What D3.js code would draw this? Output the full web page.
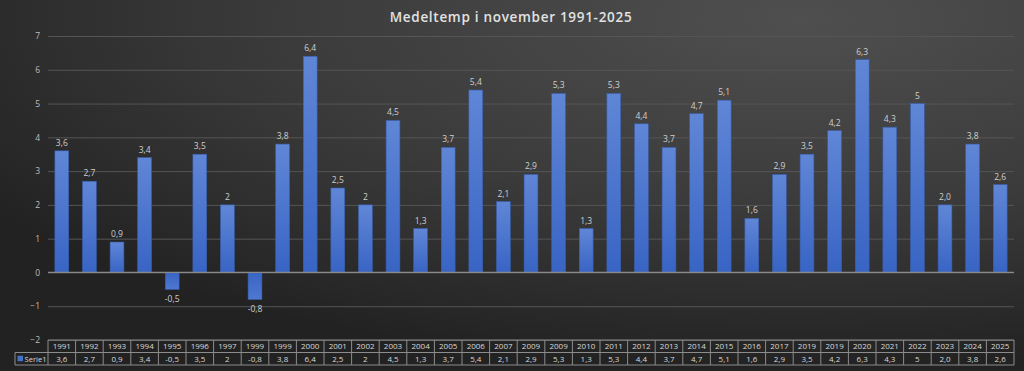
<!DOCTYPE html>
<html>
<head>
<meta charset="utf-8">
<script src="https://cdn.jsdelivr.net/npm/d3@7"></script>
<style>
  html, body { margin: 0; padding: 0; background: #2a2a2a; }
  svg { display: block; }
</style>
</head>
<body>
<svg id="chart"></svg>
<script>
const years = ["1991","1992","1993","1994","1995","1996","1997","1999","1999","2000",
  "2001","2002","2003","2004","2005","2006","2007","2009","2009","2010",
  "2011","2012","2013","2014","2015","2016","2017","2019","2019","2020",
  "2021","2022","2023","2024","2025"];
const temps = [3.6,2.7,0.9,3.4,-0.5,3.5,2,-0.8,3.8,6.4,
  2.5,2,4.5,1.3,3.7,5.4,2.1,2.9,5.3,1.3,
  5.3,4.4,3.7,4.7,5.1,1.6,2.9,3.5,4.2,6.3,
  4.3,5,2.0,3.8,2.6];
// labels as written in the original sheet
const labels = ["3,6","2,7","0,9","3,4","-0,5","3,5","2","-0,8","3,8","6,4",
  "2,5","2","4,5","1,3","3,7","5,4","2,1","2,9","5,3","1,3",
  "5,3","4,4","3,7","4,7","5,1","1,6","2,9","3,5","4,2","6,3",
  "4,3","5","2,0","3,8","2,6"];
const seriesName = "Serie1";
const title = "Medeltemp i november 1991-2025";

const width = 1024, height = 371;
const margin = { top: 36, right: 10, bottom: 31, left: 48 };

const svg = d3.select("#chart").attr("width", width).attr("height", height);
const defs = svg.append("defs");

// background
const bg = defs.append("radialGradient").attr("id", "bgGrad")
  .attr("cx", "78%").attr("cy", "5%").attr("r", "95%");
bg.append("stop").attr("offset", "0%").attr("stop-color", "#4f4f4f");
bg.append("stop").attr("offset", "55%").attr("stop-color", "#3a3a3a");
bg.append("stop").attr("offset", "100%").attr("stop-color", "#222222");
svg.append("rect").attr("width", width).attr("height", height).attr("fill", "url(#bgGrad)");

const barGrad = defs.append("linearGradient").attr("id", "barGrad")
  .attr("x1", 0).attr("y1", 0).attr("x2", 0).attr("y2", 1);
barGrad.append("stop").attr("offset", "0%").attr("stop-color", "#6086d6");
barGrad.append("stop").attr("offset", "100%").attr("stop-color", "#3864c4");

const barGradNeg = defs.append("linearGradient").attr("id", "barGradNeg")
  .attr("x1", 0).attr("y1", 0).attr("x2", 0).attr("y2", 1);
barGradNeg.append("stop").attr("offset", "0%").attr("stop-color", "#3864c4");
barGradNeg.append("stop").attr("offset", "100%").attr("stop-color", "#4f78d0");

const x = d3.scaleBand()
  .domain(d3.range(years.length))
  .range([margin.left, width - margin.right])
  .paddingInner(0.5)
  .paddingOuter(0.25);

const y = d3.scaleLinear()
  .domain([-2, 7])
  .range([height - margin.bottom, margin.top]);

// title
svg.append("text")
  .attr("x", 511).attr("y", 22)
  .attr("text-anchor", "middle")
  .attr("font-family", "Open Sans, sans-serif")
  .attr("font-weight", 600)
  .attr("font-size", 13.5)
  .attr("letter-spacing", 0.7)
  .attr("fill", "#e2e2e2")
  .text(title);

// gridlines + y labels
const yAxis = svg.append("g")
  .attr("transform", `translate(${margin.left},0)`)
  .call(d3.axisLeft(y).ticks(9).tickSize(-(width - margin.left - margin.right)).tickPadding(8));
yAxis.select(".domain").remove();
yAxis.selectAll(".tick line")
  .attr("stroke", "#555555");
yAxis.selectAll(".tick text")
  .attr("fill", "#bdbdbd")
  .attr("font-family", "Open Sans, sans-serif")
  .attr("font-size", 8.5);

// bars
svg.append("g").selectAll("rect")
  .data(temps)
  .join("rect")
  .attr("x", (d, i) => x(i))
  .attr("width", x.bandwidth())
  .attr("y", d => y(Math.max(0, d)))
  .attr("height", d => Math.abs(y(d) - y(0)))
  .attr("fill", d => d < 0 ? "url(#barGradNeg)" : "url(#barGrad)")
  .attr("stroke", "#3a5fb0")
  .attr("stroke-width", 0.6);

// zero line above bars
svg.append("line")
  .attr("x1", margin.left).attr("x2", width - margin.right)
  .attr("y1", y(0)).attr("y2", y(0))
  .attr("stroke", "#8a8a8a").attr("stroke-width", 1.2);

// data labels
svg.append("g").selectAll("text")
  .data(temps)
  .join("text")
  .attr("x", (d, i) => x(i) + x.bandwidth() / 2)
  .attr("y", d => d < 0 ? y(d) + 13 : y(d) - 5)
  .attr("text-anchor", "middle")
  .attr("font-family", "Open Sans, sans-serif")
  .attr("font-size", 8.5)
  .attr("fill", "#cfcfcf")
  .text((d, i) => labels[i]);

// data table
const step = x.step();
const colLeft = i => x(i) - step * 0.25;
const tTop = y(-2), rowH = 12.5;
const table = svg.append("g");
const lineColor = "#8c8c8c";

// horizontal lines
table.append("line")
  .attr("x1", margin.left).attr("x2", width - margin.right)
  .attr("y1", tTop).attr("y2", tTop).attr("stroke", lineColor);
table.append("line")
  .attr("x1", 15).attr("x2", width - margin.right)
  .attr("y1", tTop + rowH).attr("y2", tTop + rowH).attr("stroke", lineColor);
table.append("line")
  .attr("x1", 15).attr("x2", width - margin.right)
  .attr("y1", tTop + 2 * rowH).attr("y2", tTop + 2 * rowH).attr("stroke", lineColor);
// vertical lines
table.append("line")
  .attr("x1", 15).attr("x2", 15)
  .attr("y1", tTop + rowH).attr("y2", tTop + 2 * rowH).attr("stroke", lineColor);
table.selectAll("line.col")
  .data(d3.range(years.length + 1))
  .join("line")
  .attr("class", "col")
  .attr("x1", i => colLeft(0) + i * step).attr("x2", i => colLeft(0) + i * step)
  .attr("y1", tTop).attr("y2", tTop + 2 * rowH)
  .attr("stroke", lineColor);

table.selectAll("text.yr")
  .data(years)
  .join("text")
  .attr("class", "yr")
  .attr("x", (d, i) => x(i) + x.bandwidth() / 2)
  .attr("y", tTop + rowH / 2 + 3)
  .attr("text-anchor", "middle")
  .attr("font-family", "Open Sans, sans-serif")
  .attr("font-size", 8)
  .attr("fill", "#d8d8d8")
  .text(d => d);

table.selectAll("text.val")
  .data(labels)
  .join("text")
  .attr("class", "val")
  .attr("x", (d, i) => x(i) + x.bandwidth() / 2)
  .attr("y", tTop + rowH * 1.5 + 3)
  .attr("text-anchor", "middle")
  .attr("font-family", "Open Sans, sans-serif")
  .attr("font-size", 8)
  .attr("fill", "#d8d8d8")
  .text(d => d);

// legend cell
table.append("rect")
  .attr("x", 17.5).attr("y", tTop + rowH * 1.5 - 3)
  .attr("width", 5.5).attr("height", 5.5)
  .attr("fill", "#4472c4");
table.append("text")
  .attr("x", 24.5).attr("y", tTop + rowH * 1.5 + 3)
  .attr("font-family", "Open Sans, sans-serif")
  .attr("font-size", 7.5)
  .attr("textLength", 22)
  .attr("fill", "#d8d8d8")
  .text(seriesName);
</script>
</body>
</html>
